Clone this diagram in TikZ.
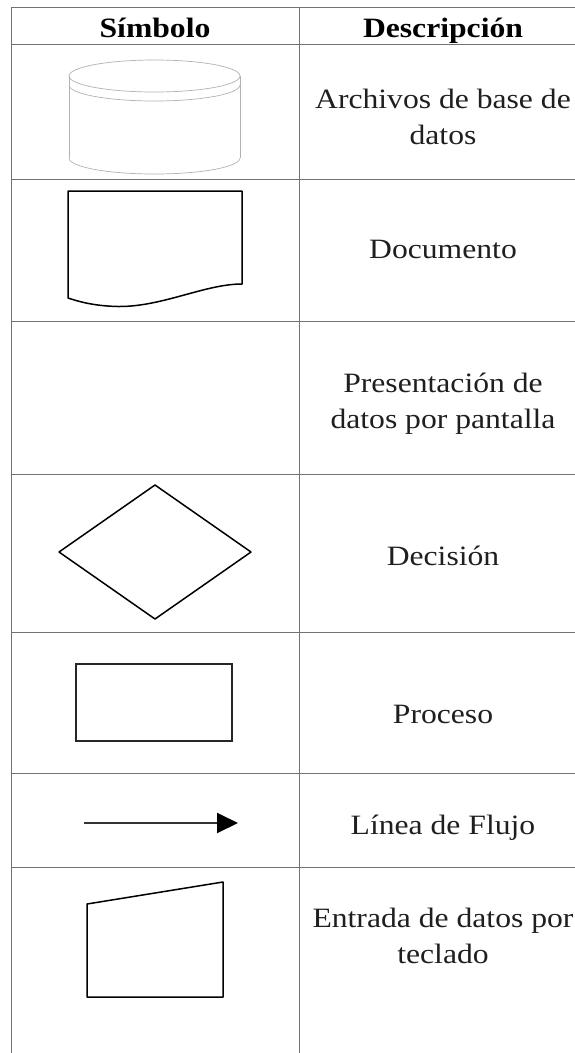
\documentclass[tikz,border=0pt]{standalone}
\usepackage{fontspec}
\setmainfont[FakeStretch=1.13]{Liberation Serif}
\usepackage{tikz}
\usetikzlibrary{arrows.meta}
\tikzstyle{gridline}=[draw=black!55, line width=0.8pt]
\tikzstyle{shapeline}=[draw=black, line width=1.5pt, line join=round]
\tikzstyle{thinshape}=[draw=black!85, line width=1.1pt]
\tikzstyle{dbline}=[draw=black!30, line width=0.7pt]
\tikzstyle{flowline}=[line width=2pt, draw=black!80, -{Triangle[length=21pt,width=20pt,fill=black,color=black]}]
\tikzstyle{headtext}=[font=\fontsize{28}{36}\selectfont\bfseries, anchor=base, inner sep=0pt]
\tikzstyle{desctext}=[font=\fontsize{28}{36}\selectfont, align=center, anchor=base, inner sep=0pt, text=black!88]

\begin{document}
\begin{tikzpicture}[x=1pt, y=-1pt]
    \useasboundingbox (0,0) rectangle (575,1053);
    \fill[white] (0,0) rectangle (575,1053);

    % table
    \draw[gridline] (11,7) -- (575,7);
    \draw[gridline] (11,44.5) -- (575,44.5);
    \draw[gridline] (11,179) -- (575,179);
    \draw[gridline] (11,321) -- (575,321);
    \draw[gridline] (11,474) -- (575,474);
    \draw[gridline] (11,632) -- (575,632);
    \draw[gridline] (11,773) -- (575,773);
    \draw[gridline] (11,867) -- (575,867);
    \draw[gridline] (11,7) -- (11,1053);
    \draw[gridline] (299,7) -- (299,1053);

    % header
    \node[headtext] (hsym) at (155,37) {Símbolo};
    \node[headtext] (hdesc) at (443,37) {Descripción};

    % descriptions (two-line nodes sit on the last baseline)
    \node[desctext] (dbtext) at (443,144) {Archivos de base de\\datos};
    \node[desctext] (doctext) at (443,258) {Documento};
    \node[desctext] (screentext) at (443,428) {Presentación de\\datos por pantalla};
    \node[desctext] (dectext) at (443,565) {Decisión};
    \node[desctext] (proctext) at (443,723) {Proceso};
    \node[desctext] (flowtext) at (443,834) {Línea de Flujo};
    \node[desctext] (keytext) at (443,963) {Entrada de datos por\\teclado};

    % base de datos
    \draw[dbline] (154.5,76) ellipse [x radius=85.5, y radius=16];
    \draw[dbline] (240,85) arc[start angle=0, end angle=180, x radius=85.5, y radius=16];
    \draw[dbline] (69,76) -- (69,158);
    \draw[dbline] (240,76) -- (240,158);
    \draw[dbline] (240,158) arc[start angle=0, end angle=180, x radius=85.5, y radius=16];

    % documento
    \draw[shapeline] (68,191) -- (242,191) -- (242,284)
        .. controls (205,284) and (162,307) .. (118,306.5)
        .. controls (95,306) and (80,302) .. (68,298) -- cycle;

    % decision
    \draw[shapeline] (155,485) -- (251,552) -- (155,619) -- (59,552) -- cycle;

    % proceso
    \draw[thinshape] (76,664) rectangle (232,741);

    % linea de flujo
    \coordinate (fa) at (84,823);
    \coordinate (fb) at (238,823);
    \draw[flowline] (fa) -- (fb);

    % teclado
    \draw[shapeline] (87,997) -- (87,904) -- (223,882) -- (223,997) -- cycle;

\end{tikzpicture}
\end{document}
